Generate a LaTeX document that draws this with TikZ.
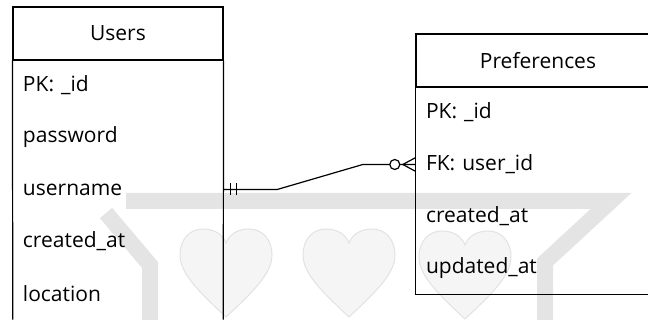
\documentclass[tikz,border=0pt]{standalone}
\usepackage{fontspec}
\setmainfont{Open Sans}
\usetikzlibrary{calc}
\definecolor{wmgray}{HTML}{E4E4E4}
\definecolor{heartfill}{HTML}{F5F5F5}
\definecolor{heartedge}{HTML}{E2E2E2}
\tikzset{
    head/.style={draw, rectangle, minimum height=53pt, line width=1.2pt, font=\fontsize{21}{24}\selectfont},
    field/.style={rectangle, minimum height=52pt, inner xsep=10pt, inner ysep=0pt, align=left, font=\fontsize{21}{24}\selectfont},
    frame/.style={line width=1.2pt},
    rel/.style={line width=1.2pt},
    band/.style={draw=wmgray, line width=16pt},
    heart/.pic={
        \path[fill=heartfill, draw=heartedge, line width=1pt]
            (0,0) .. controls (-28,26) and (-46,44) .. (-46,62)
            .. controls (-46,78) and (-36,88) .. (-23,88)
            .. controls (-11,88) and (-3,82) .. (0,74)
            .. controls (3,82) and (11,88) .. (23,88)
            .. controls (36,88) and (46,78) .. (46,62)
            .. controls (46,44) and (28,26) .. (0,0) -- cycle;
    }
}

\begin{document}
\begin{tikzpicture}[x=1pt, y=1pt, node distance=52pt]
\useasboundingbox (0,0) rectangle (648,320);

% background mark
\draw[band] (150,-10) -- (150,55) -- (106,107);
\draw[band] (126,119) -- (611,119) -- (545,58) -- (545,-10);
\pic at (226,3) {heart};
\pic at (349,3) {heart};
\pic at (465,1) {heart};

% Users table
\node[head, minimum width=210pt] (users) at (118,286.5) {Users};
\node[field, text width=190pt, below of=users] (upk) {PK: \_id};
\node[field, text width=190pt, below of=upk] (upass) {password};
\node[field, text width=190pt, below of=upass] (uname) {username};
\node[field, text width=190pt, below of=uname] (ucreated) {created\_at};
\node[field, text width=190pt, below of=ucreated] (uloc) {location};
\draw[frame] (uloc.south west) -- (users.south west);
\draw[frame] (uloc.south east) -- (users.south east);

% Preferences table
\node[head, minimum width=244pt] (prefs) at (538,259.5) {Preferences};
\node[field, text width=224pt, below of=prefs] (ppk) {PK: \_id};
\node[field, text width=224pt, below of=ppk] (pfk) {FK: user\_id};
\node[field, text width=224pt, below of=pfk] (pcreated) {created\_at};
\node[field, text width=224pt, below of=pcreated] (pupdated) {updated\_at};
\draw[frame] (prefs.north west) rectangle (pupdated.south east);

% one user -- many preferences
\draw[rel] (uname.east) -- ++(54,0) -- ($(pfk.west)+(-53,0)$) -- (pfk.west);
\draw[rel] ($(uname.east)+(7,6)$) -- ++(0,-12);
\draw[rel] ($(uname.east)+(13,6)$) -- ++(0,-12);
\draw[rel] ($(pfk.west)+(0,7)$) -- ($(pfk.west)+(-13,0)$) -- ($(pfk.west)+(0,-7)$);
\draw[rel, fill=white] ($(pfk.west)+(-21,0)$) circle (5pt);
\end{tikzpicture}
\end{document}
